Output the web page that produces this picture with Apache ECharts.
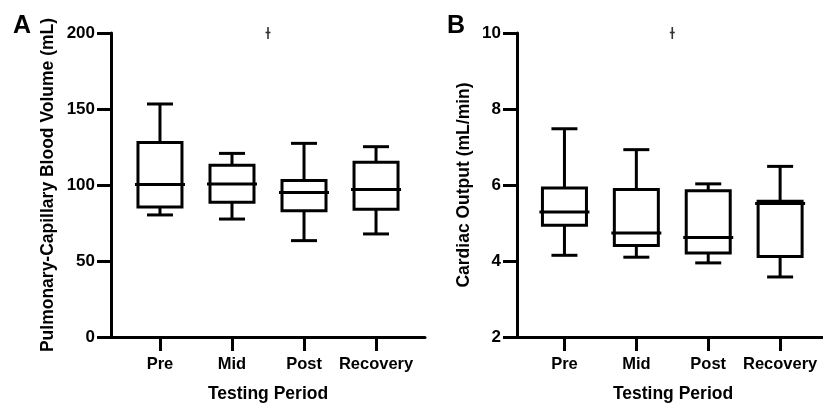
<!DOCTYPE html>
<html>
<head>
<meta charset="utf-8">
<title>Testing Period box plots</title>
<style type="text/css">
  html, body { margin: 0; padding: 0; background: #fff; }
  #chart { width: 823px; height: 403px; }
</style>
<script src="https://cdn.jsdelivr.net/npm/echarts@6/dist/echarts.min.js"></script>
</head>
<body>
<div id="chart"></div>
<script type="text/javascript">
// categories on the x axis
var categories = ['Pre', 'Mid', 'Post', 'Recovery'];
var catPos = [1, 2, 3, 4];

// box values: [min, Q1, median, Q3, max]
var pcbvBoxes = [
  [80.3, 85.5, 100.3, 128.0, 153.3],
  [77.6, 88.6, 100.6, 113.0, 120.8],
  [63.4, 83.1, 95.0, 102.9, 127.4],
  [67.8, 84.0, 97.1, 114.9, 125.2]
];
var coBoxes = [
  [4.15, 4.94, 5.29, 5.92, 7.48],
  [4.10, 4.41, 4.74, 5.88, 6.93],
  [3.95, 4.21, 4.62, 5.85, 6.03],
  [3.58, 4.12, 5.51, 5.57, 6.49]
];

// significance marks (x between Mid and Post, y at top of axis)
var pcbvMark = [[2.5, 200]];
var coMark = [[2.5, 10]];

var FONT = "'Liberation Sans', Arial, sans-serif";

function boxData(boxes) {
  return boxes.map(function (b, i) { return [catPos[i]].concat(b); });
}

// draws one whisker box from the five numbers
function renderBox(params, api) {
  var x = api.value(0);
  var pMin = api.coord([x, api.value(1)]);
  var pQ1 = api.coord([x, api.value(2)]);
  var pMed = api.coord([x, api.value(3)]);
  var pQ3 = api.coord([x, api.value(4)]);
  var pMax = api.coord([x, api.value(5)]);
  var cx = pMin[0];
  var st = { stroke: '#000', lineWidth: 3, fill: 'none' };
  return {
    type: 'group',
    children: [
      { type: 'line', shape: { x1: cx, y1: pMax[1], x2: cx, y2: pQ3[1] }, style: st },
      { type: 'line', shape: { x1: cx, y1: pQ1[1], x2: cx, y2: pMin[1] }, style: st },
      { type: 'line', shape: { x1: cx - 13, y1: pMax[1], x2: cx + 13, y2: pMax[1] }, style: st },
      { type: 'line', shape: { x1: cx - 13, y1: pMin[1], x2: cx + 13, y2: pMin[1] }, style: st },
      { type: 'rect', shape: { x: cx - 22, y: pQ3[1], width: 44, height: pQ1[1] - pQ3[1] }, style: st },
      { type: 'line', shape: { x1: cx - 25, y1: pMed[1], x2: cx + 25, y2: pMed[1] }, style: st }
    ]
  };
}

// small dagger-like mark
function renderMark(params, api) {
  var p = api.coord([api.value(0), api.value(1)]);
  var st = { stroke: '#333', lineWidth: 1.6 };
  return {
    type: 'group',
    children: [
      { type: 'line', shape: { x1: p[0], y1: p[1] - 6, x2: p[0], y2: p[1] + 6 }, style: st },
      { type: 'line', shape: { x1: p[0] - 2.5, y1: p[1] - 0.5, x2: p[0] + 2.5, y2: p[1] - 0.5 }, style: st }
    ]
  };
}

function xAxisOpt(gridIndex, min, max) {
  return {
    type: 'value',
    gridIndex: gridIndex,
    min: min,
    max: max,
    name: 'Testing Period',
    nameLocation: 'middle',
    nameGap: 48,
    nameTextStyle: { color: '#000', fontSize: 17.5, fontWeight: 'bold', fontFamily: FONT },
    axisLine: { show: true, onZero: false, lineStyle: { color: '#000', width: 3 } },
    axisTick: { show: true, customValues: catPos, length: 14, lineStyle: { color: '#000', width: 3 } },
    axisLabel: {
      customValues: catPos,
      margin: 19,
      color: '#000', fontSize: 16.5, fontWeight: 'bold', fontFamily: FONT,
      formatter: function (v) { return categories[Math.round(v) - 1] || ''; }
    },
    splitLine: { show: false }
  };
}

function yAxisOpt(gridIndex, name, min, max, interval, gap) {
  return {
    type: 'value',
    gridIndex: gridIndex,
    min: min,
    max: max,
    interval: interval,
    name: name,
    nameLocation: 'middle',
    nameGap: gap,
    nameTextStyle: { color: '#000', fontSize: 17.5, fontWeight: 'bold', fontFamily: FONT },
    axisLine: { show: true, onZero: false, lineStyle: { color: '#000', width: 3 } },
    axisTick: { show: true, length: 14, lineStyle: { color: '#000', width: 3 } },
    axisLabel: { margin: 16, color: '#000', fontSize: 17, fontWeight: 'bold', fontFamily: FONT },
    splitLine: { show: false }
  };
}

var myChart = echarts.init(document.getElementById('chart'));
var option = {
  backgroundColor: '#fff',
  animation: false,
  graphic: [
    { type: 'text', left: 13, top: 14, style: { text: 'A', fill: '#000', font: 'bold 25px ' + FONT } },
    { type: 'text', left: 447, top: 14, style: { text: 'B', fill: '#000', font: 'bold 25px ' + FONT } }
  ],
  grid: [
    { left: 111, top: 33, width: 314, height: 304, outerBoundsMode: 'none' },
    { left: 517, top: 33, width: 312, height: 304, outerBoundsMode: 'none' }
  ],
  xAxis: [
    xAxisOpt(0, 0.32, 4.68),
    xAxisOpt(1, 0.34, 4.68)
  ],
  yAxis: [
    yAxisOpt(0, 'Pulmonary-Capillary Blood Volume (mL)', 0, 200, 50, 54),
    yAxisOpt(1, 'Cardiac Output (mL/min)', 2, 10, 2, 44)
  ],
  series: [
    { type: 'custom', xAxisIndex: 0, yAxisIndex: 0, clip: false, renderItem: renderBox, data: boxData(pcbvBoxes) },
    { type: 'custom', xAxisIndex: 1, yAxisIndex: 1, clip: false, renderItem: renderBox, data: boxData(coBoxes) },
    { type: 'custom', xAxisIndex: 0, yAxisIndex: 0, clip: false, renderItem: renderMark, data: pcbvMark },
    { type: 'custom', xAxisIndex: 1, yAxisIndex: 1, clip: false, renderItem: renderMark, data: coMark }
  ]
};
myChart.setOption(option);
</script>
</body>
</html>
